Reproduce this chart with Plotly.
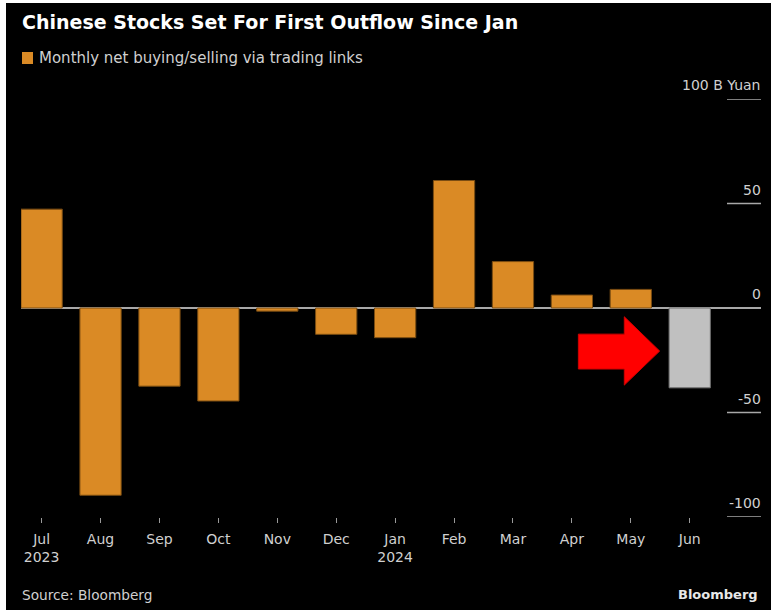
import plotly.graph_objects as go

months = ["Jul<br>2023", "Aug", "Sep", "Oct", "Nov", "Dec", "Jan<br>2024",
          "Feb", "Mar", "Apr", "May", "Jun"]
net_flow = [47.3, -89.6, -37.4, -44.5, -1.5, -12.6, -14.2, 61.0, 22.2, 6.2, 8.9, -38.2]
y_ticks = [100, 50, 0, -50, -100]
y_tick_labels = ["100 B Yuan", "50", "0", "-50", "-100"]

FONT = "DejaVu Sans"
ORANGE = "#DA8A25"
GREY = "#C0C0C0"
colors = [ORANGE] * (len(net_flow) - 1) + [GREY]
lines = ["#7a4c12"] * (len(net_flow) - 1) + ["#707070"]

fig = go.Figure()
fig.add_trace(go.Bar(
    x=months, y=net_flow, width=0.7,
    marker=dict(color=colors, line=dict(color=lines, width=1)),
    name="Monthly net buying/selling via trading links",
    showlegend=False,
))

W, H = 771, 610
L, R, T, B = 21, 10, 99, 93
PW, PH = W - L - R, H - T - B
fig.update_layout(
    width=W, height=H,
    margin=dict(l=L, r=R, t=T, b=B),
    paper_bgcolor="#000000", plot_bgcolor="#000000",
    font=dict(family=FONT, color="#d0d0d0", size=13),
    bargap=0.3,
    xaxis=dict(
        type="category", range=[-0.35, 12.21], showgrid=False, zeroline=False,
        ticks="outside", ticklen=5, tickwidth=1, tickcolor="#9a9a9a",
        ticklabelstandoff=4,
        tickfont=dict(size=14, color="#d0d0d0", family=FONT),
        showline=False, fixedrange=True,
    ),
    yaxis=dict(
        range=[-100, 100], showgrid=False, showticklabels=False,
        zeroline=True, zerolinecolor="#a8a8a8", zerolinewidth=1.5,
        tickvals=y_ticks, fixedrange=True,
    ),
)

# right-side short gridlines + labels
x0g = (727 - L) / PW
for v, lab in zip(y_ticks, y_tick_labels):
    if v != 0:
        fig.add_shape(type="line", xref="paper", yref="y", x0=x0g, x1=1, y0=v, y1=v,
                      line=dict(color="#a8a8a8", width=1.5))
    fig.add_annotation(xref="paper", yref="y", x=1, y=v, text=lab, showarrow=False,
                       xanchor="right", yanchor="bottom", yshift=4, xshift=2,
                       font=dict(size=14, color="#d0d0d0", family=FONT))

# red arrow (annotation pointing to June)
arrow = [(9.11, -12.5), (9.89, -12.5), (9.89, -4.2), (10.49, -20.6),
         (9.89, -36.9), (9.89, -29.2), (9.11, -29.2)]
path = "M " + " L ".join(f"{x},{y}" for x, y in arrow) + " Z"
fig.add_shape(type="path", xref="x", yref="y", path=path,
              fillcolor="#FF0000", line=dict(color="#d00000", width=1))

# title, legend, source, logo
fig.add_annotation(xref="paper", yref="paper", x=(20 - L) / PW, y=1,
                   yshift=T - 22, text="<b>Chinese Stocks Set For First Outflow Since Jan</b>",
                   showarrow=False, xanchor="left", yanchor="middle",
                   font=dict(size=19, color="#ffffff", family=FONT))
fig.add_shape(type="rect", xref="paper", yref="paper",
              x0=(22 - L) / PW, x1=(33 - L) / PW,
              y0=1 + (T - 64) / PH, y1=1 + (T - 52) / PH,
              fillcolor=ORANGE, line=dict(width=0))
fig.add_annotation(xref="paper", yref="paper", x=(37 - L) / PW, y=1,
                   yshift=T - 58, text="Monthly net buying/selling via trading links",
                   showarrow=False, xanchor="left", yanchor="middle",
                   font=dict(size=15, color="#d0d0d0", family=FONT))
fig.add_annotation(xref="paper", yref="paper", x=(20 - L) / PW, y=0,
                   yshift=-(595 - (H - B)), text="Source: Bloomberg",
                   showarrow=False, xanchor="left", yanchor="middle",
                   font=dict(size=13.7, color="#d0d0d0", family=FONT))
fig.add_annotation(xref="paper", yref="paper", x=(760 - L) / PW, y=0,
                   yshift=-(594 - (H - B)), text="<b>Bloomberg</b>",
                   showarrow=False, xanchor="right", yanchor="middle",
                   font=dict(size=13, color="#e8e8e8", family=FONT))

# white frame edges of the original screenshot
fig.add_shape(type="rect", xref="paper", yref="paper",
              x0=-L / PW, x1=(6 - L) / PW, y0=-B / PH, y1=1 + T / PH,
              fillcolor="#ffffff", line=dict(width=0), layer="above")
fig.add_shape(type="rect", xref="paper", yref="paper",
              x0=-L / PW, x1=1 + R / PW, y0=1 + (T - 3) / PH, y1=1 + T / PH,
              fillcolor="#ffffff", line=dict(width=0), layer="above")

fig.write_html("out.html", config={"displayModeBar": False},
               post_script="document.body.style.margin='0px';document.body.style.overflow='hidden';")
